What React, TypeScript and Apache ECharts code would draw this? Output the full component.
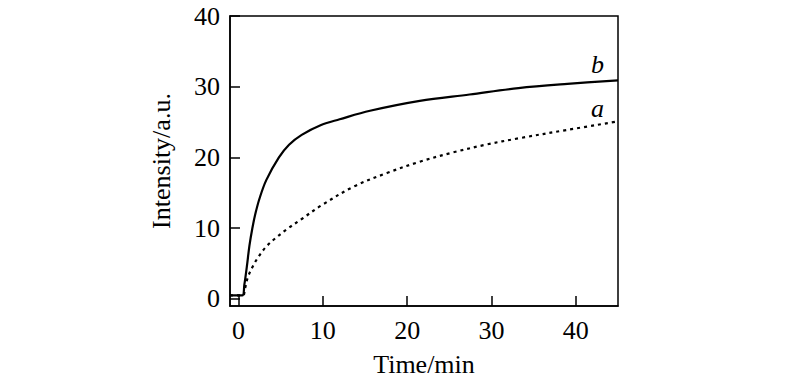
import React, { useEffect, useRef } from "react";
import * as echarts from "echarts";

const curveB: [number, number][] = [
  [-1, 0.5], [0.45, 0.5], [0.7, 2], [1.0, 4.6], [1.3, 7.5], [1.65, 10], [2.0, 12],
  [2.5, 14.2], [3.3, 16.8], [4.8, 20], [6, 21.8], [7.5, 23.2], [9.8, 24.6],
  [12, 25.4], [15.6, 26.6], [21.5, 28], [27.4, 28.9], [33.2, 29.8], [39, 30.4], [45, 30.9],
];
const curveA: [number, number][] = [
  [-1, 0.5], [0.55, 0.5], [0.75, 1.3], [1.1, 3], [1.7, 4.6], [2.4, 6], [3.3, 7.4],
  [4.5, 8.7], [5.8, 9.9], [7.5, 11.3], [9.8, 13.2], [13.7, 15.9], [17.6, 17.8],
  [21.5, 19.4], [25.4, 20.7], [29.3, 21.8], [33.2, 22.7], [39, 23.9], [45, 25.1],
];
const xTicks = [0, 10, 20, 30, 40];
const yTicks = [0, 10, 20, 30, 40];
const xName = "Time/min";
const yName = "Intensity/a.u.";
const seriesLabels = ["b", "a"];

const FONT = "'Liberation Serif', 'Times New Roman', serif";

export default function App() {
  const ref = useRef<HTMLDivElement>(null);
  useEffect(() => {
    if (!ref.current) return;
    const chart = echarts.init(ref.current, null, { renderer: "svg" });
    chart.setOption({
      animation: false,
      backgroundColor: "#ffffff",
      grid: {
        left: 230, right: 182, top: 16, bottom: 79,
        show: true, borderColor: "#000", borderWidth: 1.5,
      },
      xAxis: {
        type: "value", min: -1, max: 45,
        name: xName, nameLocation: "middle", nameGap: 45,
        nameTextStyle: { fontFamily: FONT, fontSize: 26, color: "#000" },
        axisLine: { show: true, onZero: false, lineStyle: { color: "#000", width: 1.5 } },
        axisTick: {
          show: true, inside: true, length: 10, lineStyle: { color: "#000", width: 1.5 },
          customValues: xTicks,
        },
        axisLabel: {
          fontFamily: FONT, fontSize: 26, color: "#000", margin: 11,
          customValues: xTicks,
        },
        splitLine: { show: false },
      },
      yAxis: {
        type: "value", min: -1, max: 40,
        name: yName, nameLocation: "middle", nameGap: 56,
        nameTextStyle: { fontFamily: FONT, fontSize: 26, color: "#000" },
        axisLine: { show: true, onZero: false, lineStyle: { color: "#000", width: 1.5 } },
        axisTick: {
          show: true, inside: true, length: 10, lineStyle: { color: "#000", width: 1.5 },
          customValues: yTicks,
        },
        axisLabel: {
          fontFamily: FONT, fontSize: 26, color: "#000", margin: 10,
          customValues: yTicks,
        },
        splitLine: { show: false },
      },
      series: [
        {
          type: "line", name: seriesLabels[0], data: curveB, smooth: 0.35,
          showSymbol: false,
          lineStyle: { color: "#000", width: 2.2, type: "solid" },
          endLabel: {
            show: true, formatter: seriesLabels[0], fontFamily: FONT, fontStyle: "italic",
            fontSize: 26, color: "#000", offset: [-35, -16],
          },
        },
        {
          type: "line", name: seriesLabels[1], data: curveA, smooth: 0.35,
          showSymbol: false,
          lineStyle: { color: "#000", width: 2.2, type: [3, 4] },
          endLabel: {
            show: true, formatter: seriesLabels[1], fontFamily: FONT, fontStyle: "italic",
            fontSize: 26, color: "#000", offset: [-35, -13],
          },
        },
      ],
    });
    return () => chart.dispose();
  }, []);
  return <div ref={ref} style={{ width: 800, height: 385, position: "absolute", left: 0, top: 0 }} />;
}
